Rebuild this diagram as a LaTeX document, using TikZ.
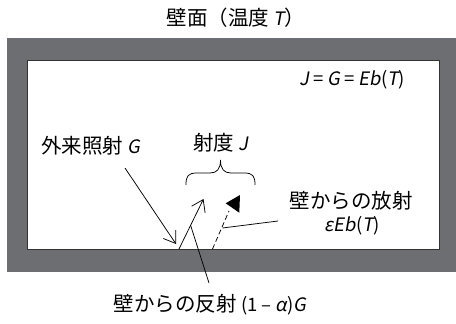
\documentclass[tikz,border=0pt]{standalone}
\usepackage{fontspec}
\setmainfont{Noto Sans CJK JP}[AutoFakeSlant=0.18]
\usetikzlibrary{arrows.meta}
\definecolor{wallgray}{HTML}{6D6E71}
\newcommand\latn[1]{{\fontsize{18.5}{22}\selectfont #1}}
\tikzset{
  lbl/.style={inner sep=0pt, font=\fontsize{20.5}{24}\selectfont},
  ray/.style={line width=0.75pt, black},
  barb/.style={-{Straight Barb[length=11pt,width=15pt,line width=0.75pt]}},
}
\begin{document}
\begin{tikzpicture}[x=1pt,y=-1pt]
\useasboundingbox (0,0) rectangle (456,324);
% walls
\fill[wallgray] (7,38) rectangle (456,272);
\filldraw[fill=white, draw=black!80, line width=0.6pt] (27,60) rectangle (439,249);
% labels
\node[lbl] (title) at (236,18) {壁面（温度 \latn{\textit{T}}）};
\node[lbl] (eq) at (352,80) {\latn{\textit{J} = \textit{G} = \textit{Eb}(\textit{T})}};
\node[lbl] (inc) at (91,146) {外来照射 \latn{\textit{G}}};
\node[lbl] (rad) at (221,143) {射度 \latn{\textit{J}}};
\node[lbl] (emi) at (351,201) {壁からの放射};
\node[lbl] (emi2) at (352,226) {\latn{\textit{εEb}(\textit{T})}};
\node[lbl] (ref) at (210,305) {壁からの反射 \latn{(1 – \textit{α})\textit{G}}};
% points
\coordinate (incS) at (125,168);
\coordinate (incE) at (176,244);
\coordinate (refS) at (179,249);
\coordinate (refE) at (203.5,199);
\coordinate (refP) at (190.5,225);
\coordinate (refL) at (209,283);
\coordinate (emS) at (212.5,249);
\coordinate (emE) at (229,211);
\coordinate (emL) at (278,221);
\coordinate (emP) at (222.5,228);
% rays
\draw[ray,barb] (incS) -- (incE);
\draw[ray,barb] (refS) -- (refE);
\draw[ray] (refL) -- (refP);
\draw[ray, dash pattern=on 5pt off 3pt] (emS) -- (emE);
\fill[black] (225.7,203.3) -- (240,195) -- (239.3,212.7) -- cycle;
\draw[ray] (emL) -- (emP);
% brace
\draw[ray] (186,185) .. controls (186,176) and (188,173) .. (197,173) -- (210,173)
  .. controls (217,173) and (220.5,169) .. (220.5,160)
  .. controls (220.5,169) and (224,173) .. (231,173) -- (244,173)
  .. controls (253,173) and (255,176) .. (255,185);
\end{tikzpicture}
\end{document}
